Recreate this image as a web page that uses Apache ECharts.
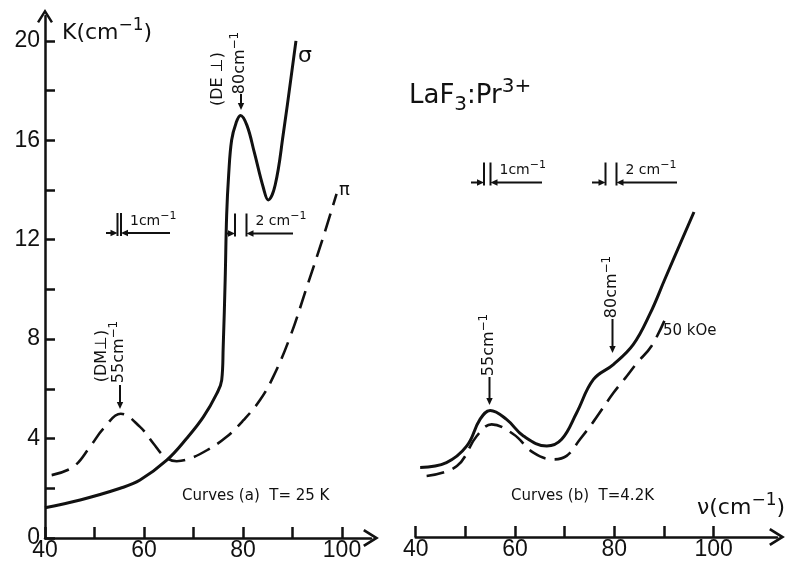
<!DOCTYPE html>
<html>
<head>
<meta charset="utf-8">
<script src="https://cdn.jsdelivr.net/npm/echarts@6/dist/echarts.min.js"></script>
<style>
  html, body { margin: 0; background: #fff; }
  #chart { width: 786px; height: 569px; }
</style>
</head>
<body>
<div id="chart"></div>
<script>
// curves (a), T = 25 K  [wavenumber cm-1, K cm-1]
const sigmaA = [[40, 1.22], [47.1, 1.53], [55.2, 2.0], [59.2, 2.33], [64.6, 3.13], [68.6, 4.0],
  [72, 4.87], [74.7, 5.81], [75.7, 6.35], [76, 7.68], [76.4, 10.4], [76.7, 13.0],
  [77.1, 14.6], [77.7, 16.0], [78.6, 16.7], [79.5, 17.0], [80.8, 16.6], [82.3, 15.5], [84.1, 14.1],
  [85.1, 13.6], [86.5, 14.2], [88.1, 16.2], [90.7, 20.0]];
const piA = [[41.35, 2.53], [45.7, 2.86], [49.1, 3.67], [51.8, 4.4], [55.3, 5.0],
  [59.2, 4.47], [61.9, 3.8], [64.2, 3.27], [66.6, 3.09], [69.3, 3.2], [72.7, 3.53], [76.7, 4.07],
  [80.1, 4.74], [83.4, 5.54], [86.1, 6.48], [89.5, 8.08], [92.9, 10.1], [96.2, 12.1], [98.9, 13.84]];
// curves (b), T = 4.2 K
const zeroFieldB = [[40.9, 2.8], [46.2, 3.0], [50.3, 3.67], [52.95, 4.74], [55, 5.1], [58.3, 4.74],
  [61.7, 4.07], [66.4, 3.67], [69.4, 3.94], [72.4, 5.0], [75.8, 6.35], [79.8, 6.95], [83.8, 7.75],
  [87.2, 9.0], [90.2, 10.4], [96.05, 13.1]];
const field50B = [[42.2, 2.46], [48.3, 2.86], [52.3, 4.07], [55.3, 4.54], [59.7, 4.14], [63.7, 3.4],
  [67.7, 3.13], [70.4, 3.27], [73.1, 3.94], [75.7, 4.62], [79.8, 5.8], [82.5, 6.48], [84.5, 7.0],
  [87.5, 7.7], [90.5, 8.9]];

const xTicks = [40, 50, 60, 70, 80, 90, 100];
const xLabels = [40, 60, 80, 100];
const yTicks = [0, 2, 4, 6, 8, 10, 12, 14, 16, 18, 20];
const yLabels = [0, 4, 8, 12, 16, 20];

const ink = '#111';
const numFont = 'Liberation Sans';
const txtFont = 'DejaVu Sans';
const chevron = 'path://M0,16 L10,0 L20,16 L17.4,17.6 L10,5.6 L2.6,17.6 Z';

const chart = echarts.init(document.getElementById('chart'));

function axisX(grid, max) {
  return {
    type: 'value', gridIndex: grid, min: 40, max: max,
    axisLine: { show: true, symbol: ['none', chevron], symbolSize: [18, 16],
      lineStyle: { color: ink, width: 2.5 } },
    axisTick: { show: true, inside: true, length: 11, customValues: xTicks,
      lineStyle: { color: ink, width: 2.5 } },
    axisLabel: { customValues: xLabels, margin: 1, color: ink, fontSize: 23, fontFamily: numFont },
    splitLine: { show: false }
  };
}

function curve(data, xi, dashed) {
  return {
    type: 'line', data: data, xAxisIndex: xi, yAxisIndex: xi,
    showSymbol: false, symbol: 'none', smooth: 0.4,
    lineStyle: { color: ink, width: dashed ? 2.6 : 3, type: dashed ? [18, 9] : 'solid' },
    silent: true
  };
}

// annotation helpers (pixel space)
function seg(x1, y1, x2, y2, w) {
  return { type: 'line', shape: { x1, y1, x2, y2 }, style: { stroke: ink, lineWidth: w || 2 } };
}
function head(x, y, dir) {
  const L = 7, W = 3.2;
  let pts;
  if (dir === 'down') pts = [[x, y], [x - W, y - L], [x + W, y - L]];
  if (dir === 'left') pts = [[x, y], [x + L, y - W], [x + L, y + W]];
  if (dir === 'right') pts = [[x, y], [x - L, y - W], [x - L, y + W]];
  return { type: 'polygon', shape: { points: pts }, style: { fill: ink } };
}
function label(x, y, text, size, extra) {
  const s = size;
  return Object.assign({
    type: 'text', x: x, y: y,
    style: {
      text: text, fill: ink, fontFamily: txtFont, fontSize: s, align: 'left', verticalAlign: 'middle',
      rich: {
        b: { fontSize: s, fontFamily: txtFont, fill: ink },
        p: { fontSize: Math.round(s * 0.78), fontFamily: txtFont, fill: ink, padding: [0, 0, Math.round(s * 0.7), 0] },
        d: { fontSize: Math.round(s * 0.78), fontFamily: txtFont, fill: ink, padding: [Math.round(s * 0.7), 0, 0, 0] }
      }
    }
  }, extra || {});
}
function rotLabel(cx, cy, text, size) {
  const el = label(cx, cy, text, size, { rotation: Math.PI / 2 });
  el.style.align = 'center';
  return el;
}
function downArrow(x, y1, y2) {
  return [seg(x, y1, x, y2 - 5, 2), head(x, y2, 'down')];
}
function gauge(xa, xb, y, tailL, tailR, text) {
  return [
    seg(tailL, y, xa - 5, y, 2), head(xa, y, 'right'),
    seg(xa, y - 20, xa, y + 3, 2), seg(xb, y - 20, xb, y + 3, 2),
    seg(xb + 5, y, tailR, y, 2), head(xb, y, 'left'),
    label(xb + 9, y - 12, text, 14)
  ];
}

const graphics = [].concat(
  label(62, 33, '{b|K(cm}{p|−1}{b|)}', 22),
  label(298, 56, 'σ', 22),
  label(339, 190, 'π', 18),
  rotLabel(218, 79, '(DE ⊥)', 16),
  rotLabel(240, 63, '{b|80cm}{p|−1}', 16),
  downArrow(241, 94, 110),
  label(409, 96, '{b|LaF}{d|3}{b|:Pr}{p|3+}', 26),
  gauge(117.5, 121, 233, 106, 170, '{b|1cm}{p|−1}'),
  gauge(235, 246.5, 233.5, 226, 293, '{b|2 cm}{p|−1}'),
  gauge(484, 490.5, 182.5, 471, 542, '{b|1cm}{p|−1}'),
  gauge(605.5, 616.5, 182.5, 592, 677, '{b|2 cm}{p|−1}'),
  rotLabel(102, 356, '(DM⊥)', 16),
  rotLabel(119, 352, '{b|55cm}{p|−1}', 16),
  downArrow(120, 385, 409),
  rotLabel(489, 345, '{b|55cm}{p|−1}', 16),
  downArrow(489.5, 377, 405),
  rotLabel(612, 287, '{b|80cm}{p|−1}', 16),
  downArrow(612.5, 319, 353),
  label(663, 331, '50 kOe', 15),
  label(182, 496, 'Curves (a)  T= 25 K', 15),
  label(511, 496, 'Curves (b)  T=4.2K', 15),
  label(697, 508, '{b|ν(cm}{p|−1}{b|)}', 22)
);

chart.setOption({
  animation: false,
  backgroundColor: '#fff',
  grid: [
    { left: 45, top: 16, width: 326, bottom: 31 },
    { left: 415.7, top: 16, width: 361.3, bottom: 32 }
  ],
  xAxis: [axisX(0, 105.86), axisX(1, 112.77)],
  yAxis: [
    {
      type: 'value', gridIndex: 0, min: 0, max: 21,
      axisLine: { show: true, symbol: ['none', chevron], symbolSize: [16, 18],
        lineStyle: { color: ink, width: 2.5 } },
      axisTick: { show: true, inside: true, length: 10, customValues: yTicks,
        lineStyle: { color: ink, width: 2.5 } },
      axisLabel: { customValues: yLabels, margin: 5, color: ink, fontSize: 23, fontFamily: numFont },
      splitLine: { show: false }
    },
    { type: 'value', gridIndex: 1, min: 0, max: 21, show: false }
  ],
  series: [
    curve(sigmaA, 0, false),
    curve(piA, 0, true),
    curve(zeroFieldB, 1, false),
    curve(field50B, 1, true)
  ],
  graphic: graphics
});
</script>
</body>
</html>
